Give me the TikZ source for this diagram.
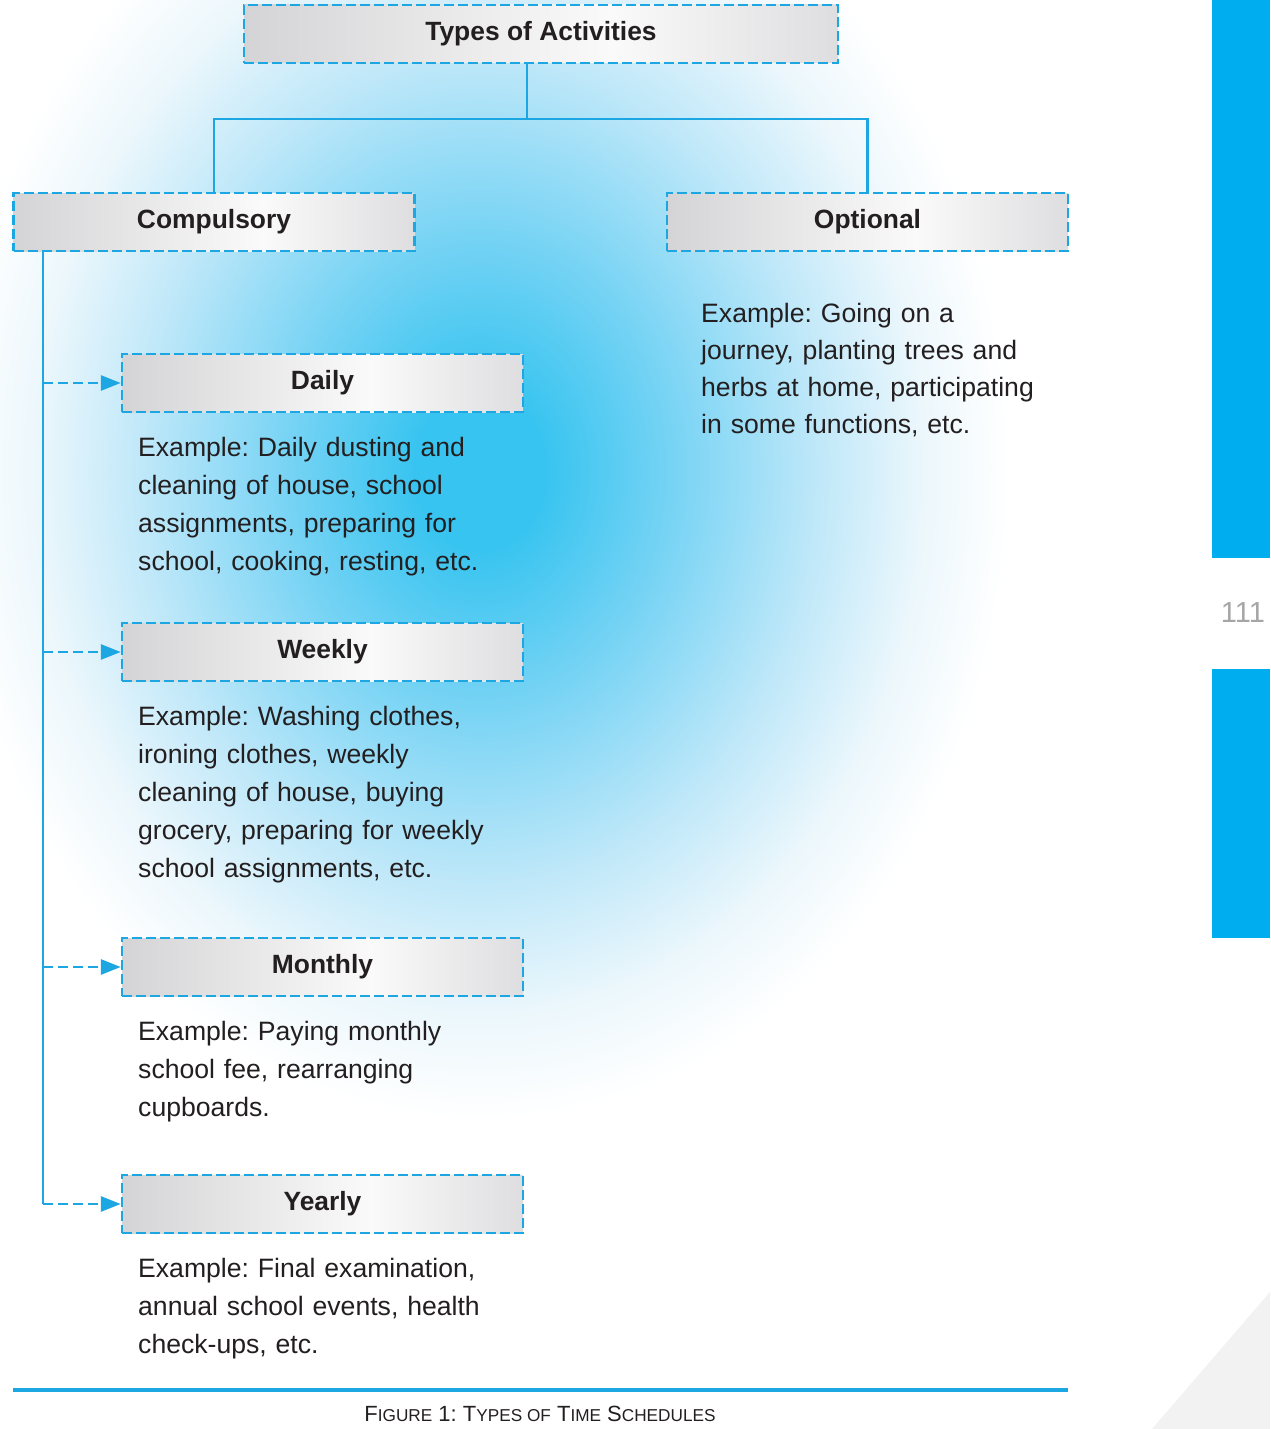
\documentclass[tikz,border=0pt]{standalone}
\usepackage{fontspec}
\setmainfont{Liberation Sans}
\usepackage{xcolor}
\usetikzlibrary{positioning,calc,arrows.meta}
\definecolor{ncblue}{RGB}{0,174,239}
\definecolor{linkblue}{RGB}{28,167,226}
\definecolor{inkgray}{RGB}{35,31,32}
\definecolor{glowA}{RGB}{55,196,240}
\definecolor{glowB}{RGB}{118,211,244}
\definecolor{glowC}{RGB}{192,232,249}
\definecolor{glowD}{RGB}{236,247,252}
\definecolor{boxdark}{RGB}{212,212,214}
\definecolor{boxmid}{RGB}{222,222,224}
\definecolor{boxlight}{RGB}{250,250,250}
\pgfdeclareradialshading{glow}{\pgfpoint{0bp}{0bp}}{color(0bp)=(glowA); color(3bp)=(glowA); color(9bp)=(glowB); color(16bp)=(glowC); color(21bp)=(glowD); color(25bp)=(white); color(50bp)=(white)}
\pgfdeclarehorizontalshading{boxshade}{100bp}{color(0bp)=(boxdark); color(25bp)=(boxdark); color(56bp)=(boxlight); color(75bp)=(boxmid); color(100bp)=(boxmid)}
\newcommand{\capsmall}{\fontsize{8.6}{10}\selectfont}
\frenchspacing

\begin{document}
\begin{tikzpicture}[x=0.5pt,y=-0.5pt,
    kindbox/.style={draw=linkblue, line width=1.2pt, dash pattern=on 5pt off 2pt,
        shade, shading=boxshade, minimum width=200.5pt, minimum height=29pt, inner sep=0pt,
        text=inkgray, font=\bfseries\fontsize{13.2}{16}\selectfont},
    note/.style={anchor=north west, inner sep=0pt, text width=235pt, align=left,
        text=inkgray, font=\fontsize{13.3}{19}\selectfont},
    link/.style={linkblue, line width=1.4pt},
    feed/.style={linkblue, line width=1.4pt, dash pattern=on 5pt off 2.5pt,
        -{Triangle[length=10pt,width=7.5pt]}}]
    \useasboundingbox (0,0) rectangle (1270,1429);
    \fill[white] (0,0) rectangle (1270,1429);

    % background glow and page marks
    \shade[shading=glow] (480,470) ellipse [x radius=530, y radius=650];
    \fill[ncblue] (1212,0) rectangle (1270,558);
    \fill[ncblue] (1212,669) rectangle (1270,938);
    \node[text=gray!70, font=\fontsize{14.5}{16}\selectfont] (pageno) at (1243,613) {111};
    \fill[gray!10] (1152,1429) -- (1270,1292) -- (1270,1429) -- cycle;

    % top levels
    \node[kindbox, minimum width=297pt] (types) at (541,34) {Types of Activities};
    \node[kindbox] (comp) at (214,222) {Compulsory};
    \node[kindbox] (opt) at (867.5,222) {Optional};
    \node[note, font=\fontsize{13.3}{18.4}\selectfont] (opt-ex) at ($(opt.south west)+(35,51)$)
        {Example: Going on a\\journey, planting trees and\\herbs at home, participating\\in some functions, etc.};

    \coordinate (fork) at (527,119);
    \coordinate (spine) at (43,0);
    \draw[link] (types.south -| fork) -- (fork);
    \draw[link] (comp.north) |- (fork) -| (opt.north);

    % compulsory kinds
    \foreach \y/\nm/\txt in {
        383/Daily/{Example: Daily dusting and\\cleaning of house, school\\assignments, preparing for\\school, cooking, resting, etc.},
        652/Weekly/{Example: Washing clothes,\\ironing clothes, weekly\\cleaning of house, buying\\grocery, preparing for weekly\\school assignments, etc.},
        967/Monthly/{Example: Paying monthly\\school fee, rearranging\\cupboards.},
        1204/Yearly/{Example: Final examination,\\annual school events, health\\check-ups, etc.}} {
        \node[kindbox] (\nm) at (322.5,\y) {\nm};
        \node[note] (\nm-ex) at ($(\nm.south west)+(17,24)$) {\txt};
        \draw[feed] (spine |- \nm.west) -- (\nm.west);
    }
    \draw[link] (comp.south -| spine) -- (spine |- Yearly.west);

    % caption
    \draw[linkblue, line width=1.6pt] (13,1390) -- (1068,1390);
    \node[text=inkgray, font=\fontsize{11}{13}\selectfont] (caption) at (540,1414)
        {F{\capsmall IGURE} 1: T{\capsmall YPES OF} T{\capsmall IME} S{\capsmall CHEDULES}};
\end{tikzpicture}
\end{document}
